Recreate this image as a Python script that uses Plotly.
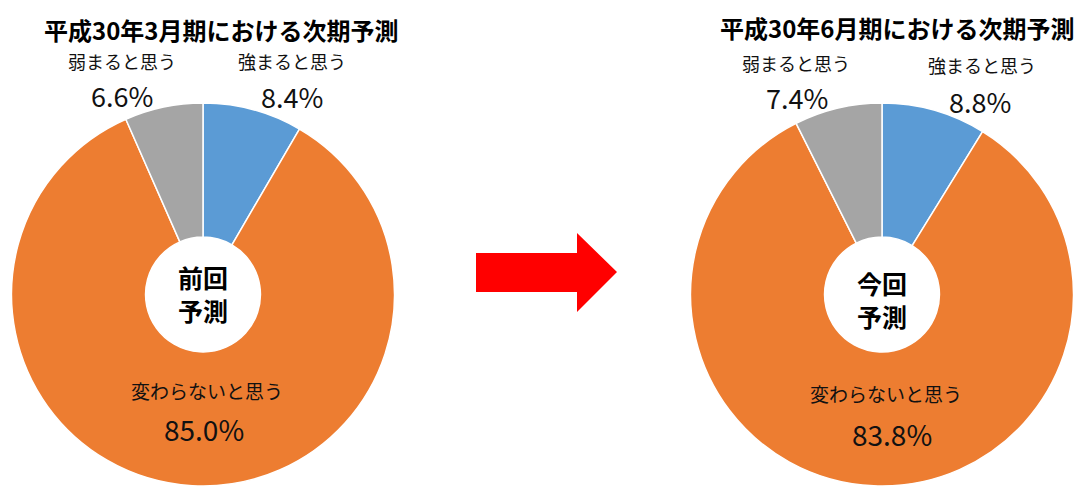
import plotly.graph_objects as go

W, H = 1081, 486

categories = ["強まると思う", "変わらないと思う", "弱まると思う"]
values_prev = [8.4, 85.0, 6.6]
values_curr = [8.8, 83.8, 7.4]
titles = ["平成30年3月期における次期予測", "平成30年6月期における次期予測"]
center_labels = ["前回<br>予測", "今回<br>予測"]
colors = ["#5B9BD5", "#ED7D31", "#A5A5A5"]

FONT = "Noto Sans CJK JP, Noto Sans, sans-serif"


def px(x):
    return x / W


def py(y):
    return 1 - y / H


fig = go.Figure()

r = 192
cy = 295
pies = [(203, values_prev), (882, values_curr)]
for cx, vals in pies:
    fig.add_trace(go.Pie(
        labels=categories, values=vals, sort=False, direction="clockwise",
        rotation=0, hole=0.30, textinfo="none", hoverinfo="label+value",
        marker=dict(colors=colors, line=dict(color="white", width=1.5)),
        domain=dict(x=[px(cx - r), px(cx + r)], y=[max(0, py(cy + r)), py(cy - r)]),
        showlegend=False,
    ))

ann = []


def add(text, x, y, size, bold=False, color="#111111"):
    ann.append(dict(text=f"<b>{text}</b>" if bold else text, x=px(x), y=py(y),
                    xref="paper", yref="paper", showarrow=False,
                    xanchor="center", yanchor="middle",
                    font=dict(family=FONT, size=size, color=color)))


# titles
add(titles[0], 221, 29, 24, bold=True, color="#000000")
add(titles[1], 897, 28, 24, bold=True, color="#000000")

# left chart labels
add(categories[2], 122, 61, 18)
add(f"{values_prev[2]:.1f}%", 122, 95, 27)
add(categories[0], 292, 61, 18)
add(f"{values_prev[0]:.1f}%", 292, 96, 27)
add(categories[1], 207, 390, 19)
add(f"{values_prev[1]:.1f}%", 204, 429, 28)

# right chart labels
add(categories[2], 796, 63, 18)
add(f"{values_curr[2]:.1f}%", 797, 98, 27)
add(categories[0], 982, 65, 18)
add(f"{values_curr[0]:.1f}%", 980, 101, 27)
add(categories[1], 886, 393, 19)
add(f"{values_curr[1]:.1f}%", 892, 434, 28)

# center labels
add(center_labels[0], 203, 293, 25, bold=True, color="#000000")
add(center_labels[1], 882, 299, 25, bold=True, color="#000000")

# arrow
pts = [(476, 253), (577, 253), (577, 233), (617, 272), (577, 312), (577, 292), (476, 292)]
path = "M " + " L ".join(f"{px(x)},{py(y)}" for x, y in pts) + " Z"
shapes = [dict(type="path", path=path, xref="paper", yref="paper",
               fillcolor="#FF0000", line=dict(width=0))]

fig.update_layout(
    width=W, height=H, margin=dict(l=0, r=0, t=0, b=0),
    paper_bgcolor="white", plot_bgcolor="white",
    annotations=ann, shapes=shapes,
)

fig.write_html("out.html", config={"displayModeBar": False},
               post_script="document.body.style.margin='0';document.body.style.overflow='hidden';")
